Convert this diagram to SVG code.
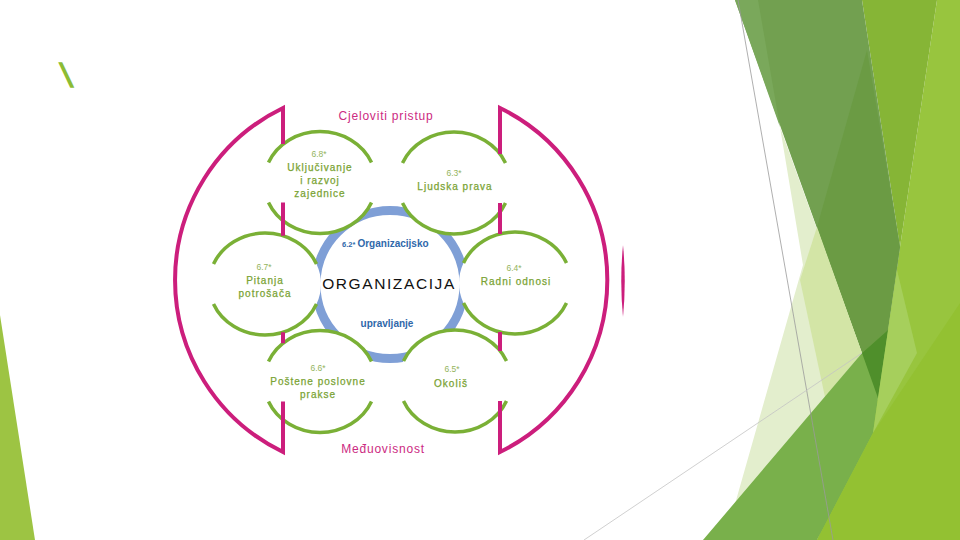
<svg xmlns="http://www.w3.org/2000/svg" width="960" height="540" viewBox="0 0 960 540">
<style>
.bg{stroke:none}
.ring{fill:none;stroke:#7f9fd6;stroke-width:9}
.fill{fill:#ffffff;stroke:none}
.arc{fill:none;stroke:#7ab036;stroke-width:3.5}
.frame{fill:none;stroke:#cc1e7c;stroke-width:4;stroke-linejoin:miter}
.num{font-family:"Liberation Sans",Arial,sans-serif;font-size:8.5px;fill:#94b45c;text-anchor:middle}
.lbl{font-family:"Liberation Sans",Arial,sans-serif;font-size:10px;fill:#7aa334;text-anchor:middle;letter-spacing:1px;stroke:#7aa334;stroke-width:0.25}
.mag{font-family:"Liberation Sans",Arial,sans-serif;font-size:12px;fill:#cc2a82;text-anchor:middle;letter-spacing:0.8px}
.blue{font-family:"Liberation Sans",Arial,sans-serif;font-size:10px;font-weight:bold;fill:#2f68aa}
.org{font-family:"Liberation Sans",Arial,sans-serif;font-size:15.5px;fill:#111111;text-anchor:middle;letter-spacing:1.6px}
.gl{stroke-width:0.8;fill:none}
</style>
<rect width="960" height="540" fill="#ffffff"/>
<g id="decoration">
<polygon class="bg" fill="#9dc443" points="0,315 35,540 0,540"/>
<polygon class="bg" fill="#98c53e" points="937,0 960,0 960,540 817,540 878,398 900,247"/>
<polygon class="bg" fill="#86b536" points="862,0 937,0 900,247"/>
<polygon class="bg" fill="#72a050" points="735,0 862,0 900,247 878,398"/>
<polygon class="bg" fill="#6b9b44" points="867,50 900,247 878,398 817,227"/>
<polygon class="bg" fill="#7aa85b" points="735,0 758,0 780,127"/>
<polygon class="bg" fill="#e3eecd" points="780,127 862,353 735,504 803,265"/>
<polygon class="bg" fill="#d3e5a6" points="817,227 862,353 825,397 800,280"/>
<polygon class="bg" fill="#79b04b" points="703,540 862,353 888,330 878,398 873,433 817,540"/>
<polygon class="bg" fill="#4f8f2b" points="862,353 888,330 878,398"/>
<polygon class="bg" fill="#a6cf5c" points="897,270 917,353 873,433 878,398"/>
<polygon class="bg" fill="#93c132" points="960,303 960,540 817,540 873,433"/>
<line class="gl" stroke="#9a9a9a" x1="738" y1="0" x2="833" y2="540"/>
<line class="gl" stroke="#c4c4c4" x1="584" y1="540" x2="862" y2="353"/>
<text transform="translate(65,87) skewX(16)" x="0" y="0" font-family="Liberation Sans, Arial, sans-serif" font-size="34" font-weight="bold" fill="#8cbc34">\</text>
</g>
<g id="organizacija">
<circle class="ring" cx="390" cy="284.5" r="74"/>
<text class="org" x="389" y="289">ORGANIZACIJA</text>
</g>
<g id="n68">
<ellipse class="fill" cx="320" cy="182.5" rx="56" ry="51"/>
<path class="arc" d="M268.5,162.5 A56,51 0 0 1 371.5,162.5 M268.5,202.5 A56,51 0 0 0 371.5,202.5"/>
<text class="num" x="319" y="157">6.8*</text>
<text class="lbl" x="320" y="171">Uključivanje</text>
<text class="lbl" x="320" y="184">i razvoj</text>
<text class="lbl" x="320" y="197">zajednice</text>
</g>
<g id="n63">
<ellipse class="fill" cx="454" cy="183" rx="56" ry="51"/>
<path class="arc" d="M402.5,163 A56,51 0 0 1 505.5,163 M402.5,203 A56,51 0 0 0 505.5,203"/>
<text class="num" x="454" y="176">6.3*</text>
<text class="lbl" x="455" y="190">Ljudska prava</text>
</g>
<g id="n67">
<ellipse class="fill" cx="265" cy="284" rx="56" ry="51"/>
<path class="arc" d="M213.5,264 A56,51 0 0 1 316.5,264 M213.5,304 A56,51 0 0 0 316.5,304"/>
<text class="num" x="264" y="270">6.7*</text>
<text class="lbl" x="265" y="284">Pitanja</text>
<text class="lbl" x="265" y="297">potrošača</text>
</g>
<g id="n64">
<ellipse class="fill" cx="515" cy="283" rx="56" ry="51"/>
<path class="arc" d="M463.5,263 A56,51 0 0 1 566.5,263 M463.5,303 A56,51 0 0 0 566.5,303"/>
<text class="num" x="514" y="271">6.4*</text>
<text class="lbl" x="516" y="285">Radni odnosi</text>
</g>
<g id="n66">
<ellipse class="fill" cx="320" cy="381.5" rx="56" ry="51"/>
<path class="arc" d="M268.5,361.5 A56,51 0 0 1 371.5,361.5 M268.5,401.5 A56,51 0 0 0 371.5,401.5"/>
<text class="num" x="318" y="371">6.6*</text>
<text class="lbl" x="318" y="385">Poštene poslovne</text>
<text class="lbl" x="318" y="398">prakse</text>
</g>
<g id="n65">
<ellipse class="fill" cx="455" cy="381" rx="56" ry="51"/>
<path class="arc" d="M403.5,361 A56,51 0 0 1 506.5,361 M403.5,401 A56,51 0 0 0 506.5,401"/>
<text class="num" x="452" y="372">6.5*</text>
<text class="lbl" x="451" y="387">Okoliš</text>
</g>
<g id="governance-label">
<text class="blue" x="342" y="247"><tspan font-size="7.5px">6.2* </tspan>Organizacijsko</text>
<text class="blue" x="387" y="327" text-anchor="middle">upravljanje</text>
</g>
<g id="connectors">
<path class="frame" d="M283,144 L283,108 A191,191 0 0 0 283,452 L283,401.5 M283,202.5 L283,235.7 M283,332.3 L283,343.2"/>
<path class="frame" d="M500,154 L500,108 A191.5,191.5 0 0 1 500,452 L500,401 M500,203 L500,234 M500,332 L500,351"/>
<path d="M623,245 Q626.5,281 623,317 Q619.5,281 623,245 Z" fill="#cc1e7c"/>
</g>
<g id="holistic">
<text class="mag" x="386" y="120">Cjeloviti pristup</text>
</g>
<g id="interdependence">
<text class="mag" x="383" y="453">Međuovisnost</text>
</g>
</svg>
